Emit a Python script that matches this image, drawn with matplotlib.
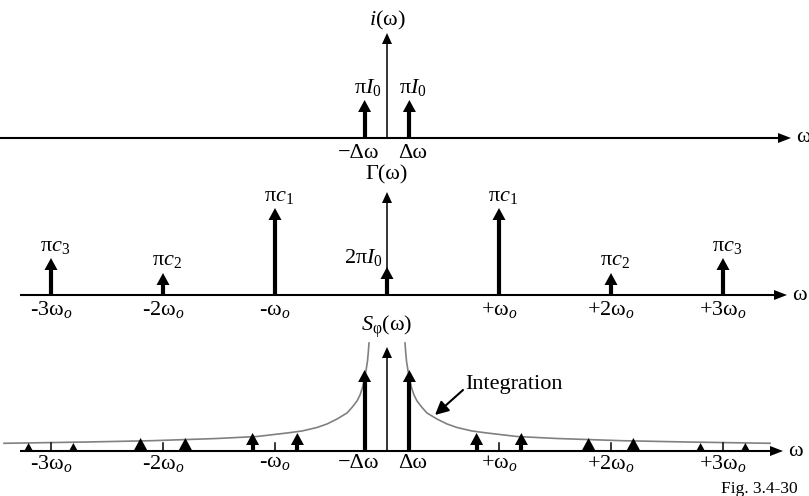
import numpy as np
import matplotlib
matplotlib.use("Agg")
import matplotlib.pyplot as plt

plt.rcParams['font.family'] = ['Liberation Serif', 'DejaVu Serif']
plt.rcParams['mathtext.fontset'] = 'custom'
plt.rcParams['mathtext.rm'] = 'Liberation Serif'
plt.rcParams['mathtext.it'] = 'Liberation Serif:italic'

# frequencies in units of w_o, arrow heights in px
dw = 0.2

# i(w): two lines at +/- dw
i_pos = [-dw, dw]
i_amp = [38, 38]
i_lbl = [r'$\mathrm{π}\mathit{I}_0$', r'$\mathrm{π}\mathit{I}_0$']

# Gamma(w): harmonics of w_o plus the dc term
g_pos = [-3, -2, -1, 0, 1, 2, 3]
g_amp = [37, 22, 87, 28, 87, 22, 37]
g_lbl = [r'$\mathrm{π}\mathit{c}_3$', r'$\mathrm{π}\mathit{c}_2$', r'$\mathrm{π}\mathit{c}_1$',
         r'2$\mathrm{π}\mathit{I}_0$', r'$\mathrm{π}\mathit{c}_1$', r'$\mathrm{π}\mathit{c}_2$',
         r'$\mathrm{π}\mathit{c}_3$']
g_tick = [r'-3$\mathrm{ω}_\mathit{o}$', r'-2$\mathrm{ω}_\mathit{o}$', r'-$\mathrm{ω}_\mathit{o}$',
          None, r'+$\mathrm{ω}_\mathit{o}$', r'+2$\mathrm{ω}_\mathit{o}$', r'+3$\mathrm{ω}_\mathit{o}$']

# S_phi(w): sidebands at k*w_o +/- dw
s_harm = [1, 2, 3]
s_amp = [18, 13, 8]
s_main = 81

# integration curve, one-sided (offset from 0, height)
c_off = [0.161, 0.166, 0.174, 0.188, 0.205, 0.220, 0.241, 0.268, 0.313, 0.357,
         0.446, 0.536, 0.625, 0.759, 0.893, 1.161, 1.518, 2.098, 2.679, 3.420]
c_amp = [108, 100, 90, 80, 70, 63, 56, 50, 43.5, 38,
         32, 27, 23.5, 20, 18, 14.5, 12.5, 10.3, 9, 7.7]

W, H = 809, 496
X0, SC = 387, 112.0

fig = plt.figure(figsize=(W / 100, H / 100), dpi=100)
ax = fig.add_axes([0, 0, 1, 1])
ax.set_xlim(-X0 / SC, (W - X0) / SC)
ax.set_ylim(0, H)
ax.axis('off')


def px(p):
    return (p - X0) / SC


def head(x, tip, hl, hw, color='k'):
    ax.fill([x - hw / 2 / SC, x + hw / 2 / SC, x], [tip - hl, tip - hl, tip],
            color=color, lw=0, zorder=4)


def spike(x, base, h, lw=3.0):
    hl = min(12, h)
    hw = 13 * hl / 12
    if h > hl:
        ax.plot([x, x], [base, base + h - hl + 1], color='k', lw=lw,
                solid_capstyle='butt', zorder=3)
    head(x, base + h, hl, hw)


def thin_axis(base, h):
    ax.plot([0, 0], [base, base + h - 9], color='k', lw=1.1, zorder=3)
    head(0, base + h, 11, 10)


def baseline(base, x_start, x_tip):
    ax.plot([px(x_start), px(x_tip) - 11 / SC], [base, base], color='k', lw=1.5,
            solid_capstyle='butt', zorder=2)
    ax.fill([px(x_tip) - 13 / SC, px(x_tip) - 13 / SC, px(x_tip)],
            [base - 5, base + 5, base], color='k', lw=0, zorder=2)
    ax.text(px(x_tip) + 5 / SC, base, 'ω', fontsize=16, ha='left', va='center')


FS = 16

# top panel
b1 = H - 138
baseline(b1, 0, 791)
thin_axis(b1, 105)
ax.text(0, b1 + 118, r'$\mathit{i}\mathrm{(ω)}$', fontsize=FS, ha='center', va='center')
for x, a, l in zip(i_pos, i_amp, i_lbl):
    spike(x, b1, a)
    ax.text(x + 3 / SC, b1 + a + 13, l, fontsize=FS, ha='center', va='center')
ax.text(-dw - 6 / SC, b1 - 16, '−Δω', fontsize=FS, ha='center', va='center')
ax.text(dw + 3 / SC, b1 - 16, 'Δω', fontsize=FS, ha='center', va='center')

# middle panel
b2 = H - 295
baseline(b2, 20, 787)
thin_axis(b2, 103)
ax.text(0, b2 + 120, 'Γ(ω)', fontsize=FS, ha='center', va='center')
for x, a, l, t in zip(g_pos, g_amp, g_lbl, g_tick):
    spike(x, b2, a)
    if x == 0:
        ax.text(-4 / SC, b2 + a + 9, l, fontsize=FS, ha='right', va='center')
    else:
        ax.text(x + 4 / SC, b2 + a + 12, l, fontsize=FS, ha='center', va='center')
    if t:
        ax.text(x, b2 - 15, t, fontsize=FS, ha='center', va='center')

# bottom panel
b3 = H - 451
baseline(b3, 20, 783)
thin_axis(b3, 104)
ax.text(0, b3 + 124, r'$\mathit{S}_\mathrm{φ}\mathrm{(ω)}$', fontsize=FS,
        ha='center', va='center')
for k, a in zip(s_harm, s_amp):
    for sgn in (-1, 1):
        ax.plot([sgn * k, sgn * k], [b3, b3 + 8], color='k', lw=1.1, zorder=3)
        for side in (-dw, dw):
            spike(sgn * k + side, b3, a)
    ax.text(-k, b3 - 12, r'-%s$\mathrm{ω}_\mathit{o}$' % ('' if k == 1 else k),
            fontsize=FS, ha='center', va='center')
    ax.text(k, b3 - 12, r'+%s$\mathrm{ω}_\mathit{o}$' % ('' if k == 1 else k),
            fontsize=FS, ha='center', va='center')
spike(-dw, b3, s_main)
spike(dw, b3, s_main)
ax.text(-dw - 6 / SC, b3 - 12, '−Δω', fontsize=FS, ha='center', va='center')
ax.text(dw + 3 / SC, b3 - 12, 'Δω', fontsize=FS, ha='center', va='center')

off = np.array(c_off)
amp = np.array(c_amp)
ax.plot(-off, b3 + amp, color='#808080', lw=1.2, zorder=2)
ax.plot(off, b3 + amp, color='#808080', lw=1.2, zorder=2)

ax.text(px(465), H - 385, 'Integration', fontsize=FS, ha='left', va='center')
ax.annotate('', xy=(px(435), H - 415), xytext=(px(463), H - 390),
            arrowprops=dict(arrowstyle='-|>', color='k', lw=1.5,
                            mutation_scale=20, shrinkA=0, shrinkB=0))

ax.text(px(798), H - 489, 'Fig. 3.4-30', fontsize=12.5, ha='right', va='center')

fig.savefig('out.png', dpi=100)
